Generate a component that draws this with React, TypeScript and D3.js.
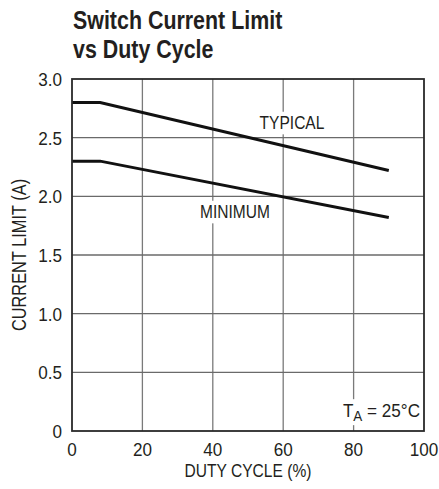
import * as React from 'react';
import * as d3 from 'd3';

// chart data
const DUTY_CYCLE = [0, 8, 90];
const TYPICAL = [2.8, 2.8, 2.22];
const MINIMUM = [2.3, 2.3, 1.82];
const X_TICKS = [0, 20, 40, 60, 80, 100];
const Y_TICKS = [0, 0.5, 1.0, 1.5, 2.0, 2.5, 3.0];

const WIDTH = 439;
const HEIGHT = 489;
const MARGINS = { top: 79, left: 72, bottom: 58, right: 15 };
const FONT = '"Liberation Sans", Arial, sans-serif';
const INK = '#231f20';

/**
 * Appends a condensed text group at x,y (no narrow font installed, so
 * Liberation Sans gets squeezed horizontally). Returns the <text> selection.
 */
const narrowText = (parent, x:number, y:number, anchor:string, size:number, squeeze:number, weight = 'normal') => {
    const g = parent.append('g')
        .attr('transform', 'translate(' + [x, y] + ') scale(' + squeeze + ',1)');
    return g.append('text')
        .attr('text-anchor', anchor)
        .attr('font-family', FONT)
        .attr('font-size', size)
        .attr('font-weight', weight)
        .attr('fill', INK);
};

export default function App() {
    const ref = React.useRef<SVGSVGElement>(null);

    React.useEffect(() => {
        document.body.style.margin = '0';
        const svg = d3.select(ref.current);
        svg.selectAll('*').remove();

        const w = WIDTH - MARGINS.left - MARGINS.right;
        const h = HEIGHT - MARGINS.top - MARGINS.bottom;

        const xScale = d3.scaleLinear().domain([0, 100]).range([0, w]);
        const yScale = d3.scaleLinear().domain([0, 3]).range([h, 0]);

        // title
        narrowText(svg, 73, 29, 'start', 25.5, 0.84, 'bold').text('Switch Current Limit');
        narrowText(svg, 73, 57.5, 'start', 25.5, 0.84, 'bold').text('vs Duty Cycle');

        const canvas = svg.append('g')
            .attr('transform', 'translate(' + [MARGINS.left, MARGINS.top] + ')');

        // grid lines
        canvas.append('g')
            .selectAll('line')
            .data(X_TICKS.slice(1, -1))
            .enter().append('line')
            .attr('x1', d => xScale(d)).attr('x2', d => xScale(d))
            .attr('y1', 0).attr('y2', h)
            .attr('stroke', '#7a7a7a').attr('stroke-width', 1.3);

        canvas.append('g')
            .selectAll('line')
            .data(Y_TICKS.slice(1, -1))
            .enter().append('line')
            .attr('x1', 0).attr('x2', w)
            .attr('y1', d => yScale(d)).attr('y2', d => yScale(d))
            .attr('stroke', '#6a6a6a').attr('stroke-width', 1.3);

        // labels with a white box masking the grid behind them
        const boxedLabel = (x:number, y:number, anchor:string, size:number, squeeze:number, build) => {
            const t = narrowText(canvas, x, y, anchor, size, squeeze);
            build(t);
            const bb = (t.node() as SVGTextElement).getBBox();
            d3.select(t.node().parentNode).insert('rect', 'text')
                .attr('fill', 'white')
                .attr('x', bb.x - 3).attr('y', bb.y - 1)
                .attr('width', bb.width + 6).attr('height', bb.height + 2);
        };

        boxedLabel(292 - MARGINS.left, 129 - MARGINS.top, 'middle', 18.5, 0.84, t => t.text('TYPICAL'));
        boxedLabel(235 - MARGINS.left, 218 - MARGINS.top, 'middle', 18.5, 0.84, t => t.text('MINIMUM'));
        boxedLabel(w - 4, h - 14, 'end', 19, 0.9, t => {
            t.append('tspan').text('T');
            t.append('tspan').attr('font-size', 15).attr('dy', 4).text('A');
            t.append('tspan').attr('dy', -4).text(' = 25°C');
        });

        // curves
        const line = d3.line<number>()
            .x((d, i) => xScale(DUTY_CYCLE[i]))
            .y(d => yScale(d));

        [TYPICAL, MINIMUM].forEach(series => {
            canvas.append('path')
                .datum(series)
                .attr('d', line)
                .attr('fill', 'none')
                .attr('stroke', '#111')
                .attr('stroke-width', 3);
        });

        // frame
        canvas.append('rect')
            .attr('x', 0).attr('y', 0).attr('width', w).attr('height', h)
            .attr('fill', 'none')
            .attr('stroke', '#2a2a2a')
            .attr('stroke-width', 1.8);

        // tick labels
        X_TICKS.forEach(d => {
            narrowText(canvas, xScale(d), h + 25, 'middle', 19, 0.9).text(String(d));
        });

        Y_TICKS.forEach(d => {
            narrowText(canvas, -10, yScale(d), 'end', 19, 0.9)
                .attr('dy', '0.36em')
                .text(d === 0 ? '0' : d3.format('.1f')(d));
        });

        // axis titles
        narrowText(canvas, w / 2, h + 46, 'middle', 19, 0.82).text('DUTY CYCLE (%)');

        svg.append('g')
            .attr('transform', 'translate(' + [26, MARGINS.top + h / 2] + ') rotate(-90) scale(0.84,1)')
            .append('text')
            .attr('text-anchor', 'middle')
            .attr('font-family', FONT)
            .attr('font-size', 19.5)
            .attr('fill', INK)
            .text('CURRENT LIMIT (A)');
    }, []);

    return <svg ref={ref} width={WIDTH} height={HEIGHT} style={{ display: 'block', background: 'white' }} />;
}
